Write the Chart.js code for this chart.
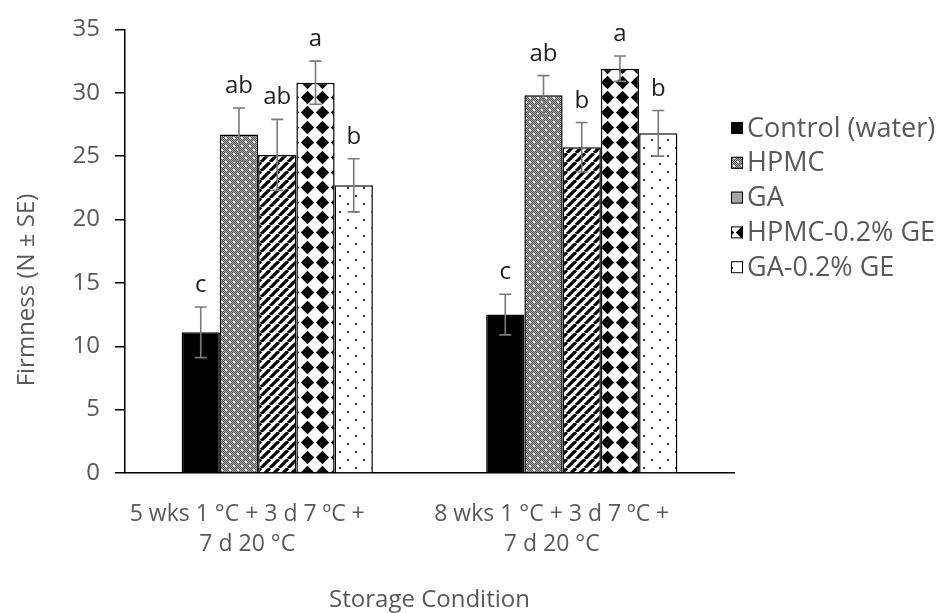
<!DOCTYPE html>
<html><head><meta charset="utf-8">
<script src="https://cdn.jsdelivr.net/npm/chart.js@4.4.0/dist/chart.umd.min.js"></script>
<style>html,body{margin:0;padding:0;background:#fff;}#wrap{width:943px;height:613px;}</style>
</head><body><div id="wrap"><canvas id="c" width="943" height="613"></canvas></div>
<script>
// ---------- DATA ----------
const categories = [["5 wks 1 °C + 3 d 7 ºC +", "7 d 20 °C"], ["8 wks 1 °C + 3 d 7 ºC +", "7 d 20 °C"]];
const seriesNames = ["Control (water)", "HPMC", "GA", "HPMC-0.2% GE", "GA-0.2% GE"];
const controlValues = [11.1, 12.5];
const hpmcValues = [26.7, 29.8];
const gaValues = [25.1, 25.7];
const hpmcGeValues = [30.8, 31.9];
const gaGeValues = [22.7, 26.8];
const controlErr = [2.0, 1.6];
const hpmcErr = [2.1, 1.55];
const gaErr = [2.8, 1.95];
const hpmcGeErr = [1.7, 1.0];
const gaGeErr = [2.1, 1.8];
const controlLetters = ["c", "c"];
const hpmcLetters = ["ab", "ab"];
const gaLetters = ["ab", "b"];
const hpmcGeLetters = ["a", "a"];
const gaGeLetters = ["b", "b"];
const yTickMin = 0, yTickMax = 35, yTickStep = 5;
const xTitle = "Storage Condition";
const yTitle = "Firmness (N ± SE)";

// ---------- PATTERNS ----------
function tile(w, h, draw) {
  const c = document.createElement('canvas'); c.width = w; c.height = h;
  const g = c.getContext('2d'); draw(g, w, h);
  return document.getElementById('c').getContext('2d').createPattern(c, 'repeat');
}
const patHpmc = tile(8, 8, (g) => {
  for (let y = 0; y < 8; y++) for (let x = 0; x < 8; x++) {
    g.fillStyle = ((x + y) % 2 === 0) ? '#4a4a4a' : '#b8b8b8';
    g.fillRect(x, y, 1, 1);
  }
  g.fillStyle = '#ffffff';
  g.fillRect(1, 1, 2, 2); g.fillRect(5, 5, 2, 2);
});
const patGa = tile(9, 9, (g, T) => {
  g.fillStyle = '#fff'; g.fillRect(0, 0, T, T);
  g.strokeStyle = '#000'; g.lineWidth = 3.2;
  for (let k = -1; k <= 1; k++) { g.beginPath(); g.moveTo(k * T, T); g.lineTo(k * T + T, 0); g.stroke(); }
});
const patHpmcGe = tile(15, 15, (g) => {
  g.fillStyle = '#fff'; g.fillRect(0, 0, 15, 15);
  g.fillStyle = '#000'; g.beginPath();
  g.moveTo(7.5, 0.8); g.lineTo(14.2, 7.5); g.lineTo(7.5, 14.2); g.lineTo(0.8, 7.5); g.closePath(); g.fill();
});
const patGaGe = tile(16, 16, (g) => {
  g.fillStyle = '#fff'; g.fillRect(0, 0, 16, 16);
  g.fillStyle = '#333'; g.fillRect(3, 3, 2, 2); g.fillRect(11, 11, 2, 2);
});

const values = [controlValues, hpmcValues, gaValues, hpmcGeValues, gaGeValues];
const errs = [controlErr, hpmcErr, gaErr, hpmcGeErr, gaGeErr];
const letters = [controlLetters, hpmcLetters, gaLetters, hpmcGeLetters, gaGeLetters];
const fills = ['#000000', patHpmc, patGa, patHpmcGe, patGaGe];
const legendFills = ['#000000', patHpmc, '#a6a6a6', patHpmcGe, patGaGe];

const FONT = "'Open Sans', sans-serif";
const GREY = '#595959';

const errorBarPlugin = {
  id: 'errbars',
  afterDatasetsDraw(chart) {
    const ctx = chart.ctx, y = chart.scales.y;
    ctx.save();
    chart.data.datasets.forEach((ds, i) => {
      const meta = chart.getDatasetMeta(i);
      meta.data.forEach((bar, j) => {
        const v = values[i][j], e = errs[i][j];
        const yt = y.getPixelForValue(v + e), yb = y.getPixelForValue(v - e);
        ctx.strokeStyle = '#7a7a7a'; ctx.lineWidth = 1.6;
        ctx.beginPath();
        ctx.moveTo(bar.x, yt); ctx.lineTo(bar.x, yb);
        ctx.moveTo(bar.x - 6, yt); ctx.lineTo(bar.x + 6, yt);
        ctx.moveTo(bar.x - 6, yb); ctx.lineTo(bar.x + 6, yb);
        ctx.stroke();
        ctx.fillStyle = '#1f1f1f'; ctx.font = "24px " + FONT;
        ctx.textAlign = 'center'; ctx.textBaseline = 'alphabetic';
        ctx.fillText(letters[i][j], bar.x, yt - 15);
      });
    });
    ctx.restore();
  }
};

const customLegendPlugin = {
  id: 'customLegend',
  afterDraw(chart) {
    const ctx = chart.ctx;
    ctx.save();
    seriesNames.forEach((name, i) => {
      const cy = 128 + i * 34.8;
      ctx.fillStyle = legendFills[i];
      ctx.fillRect(731, cy - 6, 12, 12);
      ctx.strokeStyle = '#000'; ctx.lineWidth = 1;
      ctx.strokeRect(731.5, cy - 5.5, 11, 11);
      ctx.fillStyle = GREY; ctx.font = "27px " + FONT;
      ctx.textAlign = 'left'; ctx.textBaseline = 'middle';
      ctx.fillText(name, 747, cy + 1);
    });
    // y-axis title
    ctx.translate(27, 290); ctx.rotate(-Math.PI / 2);
    ctx.fillStyle = GREY; ctx.font = "24px " + FONT;
    ctx.textAlign = 'center'; ctx.textBaseline = 'middle';
    ctx.fillText(yTitle, 0, 0);
    ctx.restore();
  }
};

new Chart(document.getElementById('c'), {
  type: 'bar',
  data: {
    labels: categories,
    datasets: seriesNames.map((n, i) => ({
      label: n, data: values[i], backgroundColor: fills[i],
      borderColor: '#000', borderWidth: 1.5,
      categoryPercentage: 0.628, barPercentage: 1.0
    }))
  },
  options: {
    responsive: false, animation: false,
    layout: { padding: { top: 28, right: 209, bottom: 0, left: 0 } },
    plugins: { legend: { display: false }, tooltip: { enabled: false } },
    scales: {
      x: {
        grid: { display: false, drawTicks: false },
        border: { color: '#000', width: 1.5 },
        ticks: { color: GREY, font: { family: FONT, size: 23, lineHeight: 1.3 }, padding: 27, maxRotation: 0, labelOffset: -30 },
        title: { display: true, text: xTitle, color: GREY, font: { family: FONT, size: 24 }, padding: { top: 0, bottom: -2 } },
        afterFit(s) { s.height = 140; }
      },
      y: {
        min: yTickMin, max: yTickMax,
        grid: { drawOnChartArea: false, drawTicks: true, tickLength: 10, color: '#000', lineWidth: 1.5 },
        border: { color: '#000', width: 1.5 },
        ticks: { stepSize: yTickStep, color: GREY, font: { family: FONT, size: 24 }, padding: 15 },
        afterFit(s) { s.width = 125; }
      }
    }
  },
  plugins: [errorBarPlugin, customLegendPlugin]
});
</script></body></html>
